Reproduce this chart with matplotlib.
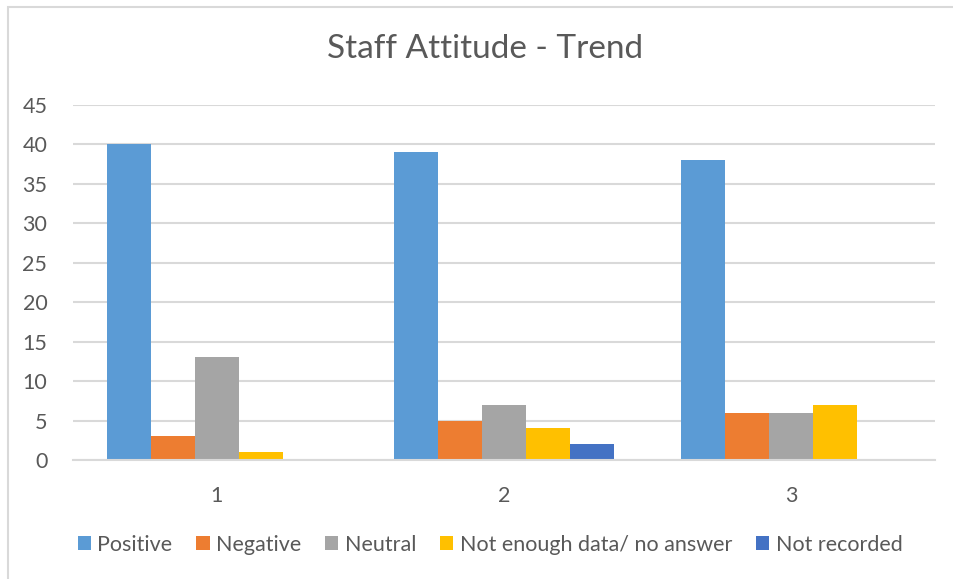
import matplotlib
matplotlib.use("Agg")
import matplotlib.pyplot as plt
import numpy as np
from matplotlib.patches import Rectangle

categories = ["1", "2", "3"]
series_names = ["Positive", "Negative", "Neutral", "Not enough data/ no answer", "Not recorded"]
positive = [40, 39, 38]
negative = [3, 5, 6]
neutral = [13, 7, 6]
not_enough = [1, 4, 7]
not_recorded = [0, 2, 0]
y_ticks = [0, 5, 10, 15, 20, 25, 30, 35, 40, 45]

series_values = [positive, negative, neutral, not_enough, not_recorded]
colors = ["#5B9BD5", "#ED7D31", "#A5A5A5", "#FFC000", "#4472C4"]

plt.rcParams['font.family'] = ['Lato', 'DejaVu Sans']
text_color = "#595959"

W, H = 954, 579
fig = plt.figure(figsize=(W / 100, H / 100), dpi=100)
fig.patches.append(Rectangle((8 / W, -0.1), 1.0, 1.1 - 7 / H, transform=fig.transFigure,
                             fill=False, edgecolor="#D9D9D9", linewidth=1.5, zorder=0))

left, right, top, bottom = 73, 935, 105, 460
ax = fig.add_axes([left / W, 1 - bottom / H, (right - left) / W, (bottom - top) / H])

x = np.arange(len(categories))
n = len(series_values)
bw = 44 / ((right - left) / 3)
for i, (vals, name, c) in enumerate(zip(series_values, series_names, colors)):
    offs = (i - (n - 1) / 2) * bw
    ax.bar(x + offs, vals, width=bw, color=c, label=name, zorder=3, linewidth=0)

ax.set_xlim(-0.5, 2.5)
ax.set_ylim(0, 45)
ax.set_yticks(y_ticks)
ax.set_xticks(x)
ax.set_xticklabels(categories)
ax.grid(axis='y', color="#D9D9D9", linewidth=1.5, zorder=0)
for s in ["top", "right", "left"]:
    ax.spines[s].set_visible(False)
ax.spines["bottom"].set_color("#D9D9D9")
ax.spines["bottom"].set_linewidth(1.5)
ax.spines["bottom"].set_zorder(4)
ax.tick_params(axis='both', length=0, labelsize=15.5, colors=text_color)
ax.tick_params(axis='y', pad=18.5)
ax.tick_params(axis='x', pad=19)

fig.text(485 / W, 1 - 49 / H, "Staff Attitude - Trend", ha='center', va='center',
         fontsize=24, color=text_color)

handles, labels = ax.get_legend_handles_labels()
leg = fig.legend(handles, labels, loc='center', bbox_to_anchor=(490 / W, 1 - 545 / H),
                 ncol=5, frameon=False, fontsize=15.5, handlelength=0.62, handleheight=0.62,
                 handletextpad=0.3, columnspacing=1.1, labelcolor=text_color)

fig.savefig("out.png", dpi=100)
